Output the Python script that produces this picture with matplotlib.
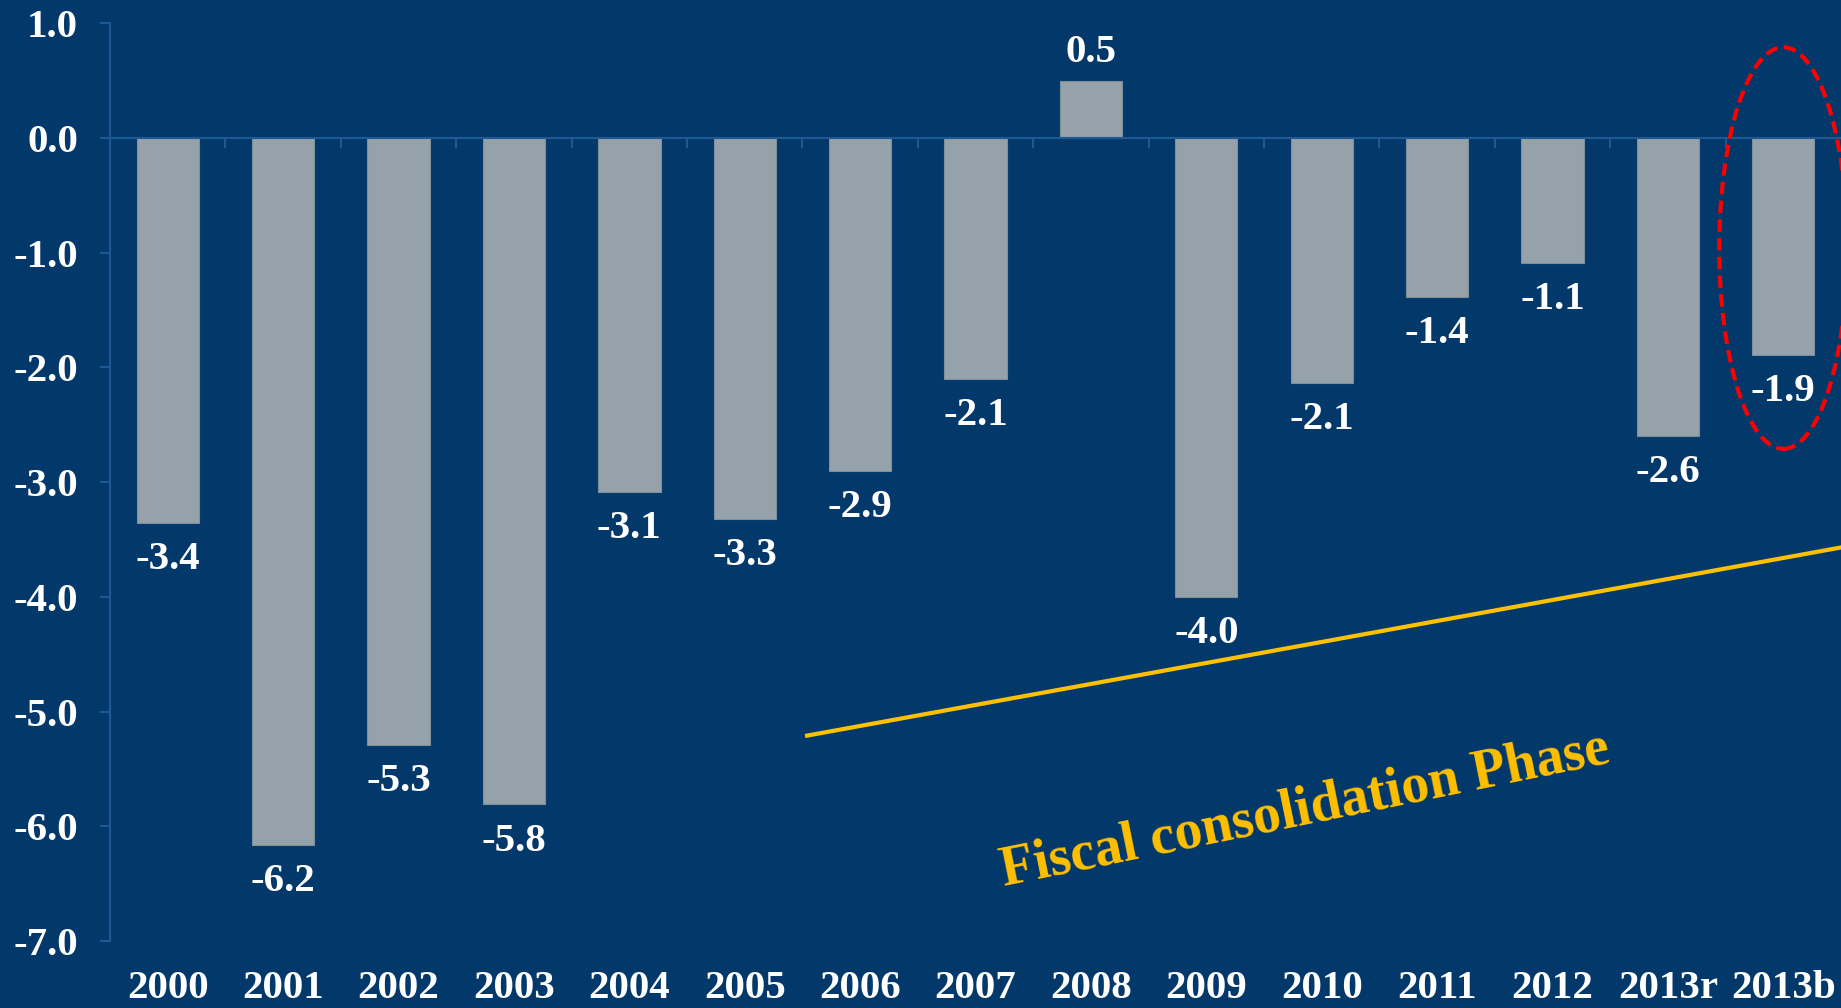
import matplotlib.pyplot as plt
import numpy as np
from matplotlib.patches import Ellipse
from matplotlib.ticker import FormatStrFormatter

years = ['2000', '2001', '2002', '2003', '2004', '2005', '2006', '2007',
         '2008', '2009', '2010', '2011', '2012', '2013r', '2013b']
deficit = [-3.36, -6.16, -5.29, -5.81, -3.09, -3.32, -2.9, -2.1,
           0.5, -4.0, -2.14, -1.39, -1.09, -2.6, -1.89]

# consolidation trend line (x in category index, y in % of GDP)
trend_x = [5.54, 14.5]
trend_y = [-5.21, -3.57]

bg = '#03386a'
axis_color = '#1d5a94'
bar_color = '#95a2aa'
gold = '#ffc000'
fs = 29.5

plt.rcParams['font.family'] = ['Liberation Serif', 'DejaVu Serif']
plt.rcParams['font.weight'] = 'bold'

fig = plt.figure(figsize=(18.41, 10.08), dpi=100)
fig.patch.set_facecolor(bg)
ax = fig.add_axes([0.0598, 0.0665, 0.9402, 0.9105])
ax.set_facecolor(bg)

x = np.arange(len(years))
ax.bar(x, deficit, width=0.54, color=bar_color, edgecolor='#7d8f9c',
       linewidth=0.8, zorder=2)

ax.set_xlim(-0.5, len(years) - 0.5)
ax.set_ylim(-7, 1)
ax.set_yticks(np.arange(-7, 1.01, 1))
ax.yaxis.set_major_formatter(FormatStrFormatter('%.1f'))
ax.tick_params(axis='y', colors=axis_color, labelcolor='white',
               labelsize=fs, length=7, width=1.5, pad=16)

for s in ['top', 'right']:
    ax.spines[s].set_visible(False)
ax.spines['left'].set_color(axis_color)
ax.spines['left'].set_linewidth(1.5)
ax.spines['bottom'].set_position(('data', 0))
ax.spines['bottom'].set_color(axis_color)
ax.spines['bottom'].set_linewidth(1.5)

# boundary ticks on the zero line
ax.set_xticks(np.arange(0.5, len(years) - 1, 1))
ax.set_xticklabels([])
ax.tick_params(axis='x', colors=axis_color, length=7, width=1.5,
               direction='out')

# year labels along the bottom of the plot
sec = ax.secondary_xaxis(0.0)
sec.set_xticks(x, labels=years)
sec.tick_params(length=0, pad=21, labelsize=fs, labelcolor='white')
sec.spines['bottom'].set_visible(False)

for i, v in enumerate(deficit):
    if v < 0:
        ax.annotate(f'{v:.1f}', (i, v), xytext=(0, -13), textcoords='offset points',
                    ha='center', va='top', fontsize=fs, color='white')
    else:
        ax.annotate(f'{v:.1f}', (i, v), xytext=(0, 7), textcoords='offset points',
                    ha='center', va='bottom', fontsize=fs, color='white')

ax.plot(trend_x, trend_y, color=gold, lw=3, zorder=3)
ax.text(9.85, -5.86, 'Fiscal consolidation Phase', rotation=11.5,
        rotation_mode='anchor', ha='center', va='center',
        fontsize=40, color=gold)

ell = Ellipse((14, -0.96), 1.11, 3.5, fill=False, edgecolor='#ff0000',
              lw=3, linestyle=(0, (3, 1.5)), zorder=4, clip_on=False)
ax.add_patch(ell)

fig.savefig('out.png', dpi=100, facecolor=bg)
